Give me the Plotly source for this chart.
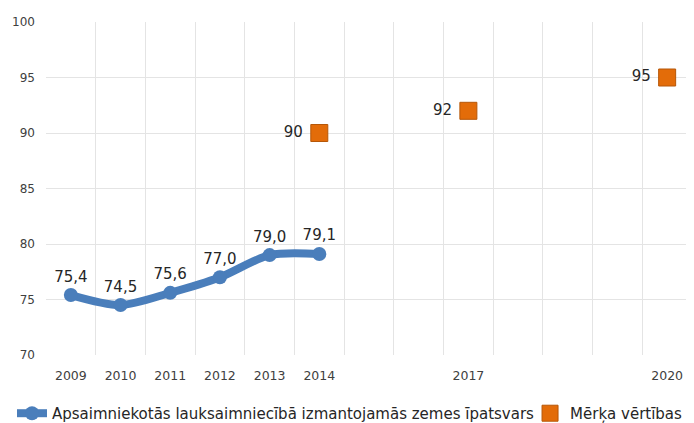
import plotly.graph_objects as go

categories = ["2009", "2010", "2011", "2012", "2013", "2014", "", "", "2017", "", "", "", "2020"]
actual_years = ["2009", "2010", "2011", "2012", "2013", "2014"]
actual_values = [75.4, 74.5, 75.6, 77.0, 79.0, 79.1]
target_years = ["2014", "2017", "2020"]
target_values = [90, 92, 95]
y_ticks = [70, 75, 80, 85, 90, 95, 100]

name_actual = "Apsaimniekotās lauksaimniecībā izmantojamās zemes īpatsvars"
name_target = "Mērķa vērtības"

def pos(year):
    return categories.index(year)

font_family = "DejaVu Sans"

fig = go.Figure()
fig.add_trace(go.Scatter(
    x=[pos(y) for y in actual_years], y=actual_values,
    mode="lines+markers+text",
    name=name_actual,
    legend="legend",
    line=dict(color="#4A7EBB", width=8, shape="spline", smoothing=0.8),
    marker=dict(color="#4A7EBB", size=14, symbol="circle"),
    text=[f"{v:.1f}".replace(".", ",") for v in actual_values],
    textposition="top center",
    textfont=dict(family=font_family, size=15, color="#262626"),
))
fig.add_trace(go.Scatter(
    x=[pos(y) for y in target_years], y=target_values,
    mode="markers+text",
    name=name_target,
    legend="legend2",
    marker=dict(color="#E36C09", size=17, symbol="square",
                line=dict(color="#B65708", width=1)),
    text=[f"{v} " for v in target_values],
    textposition="middle left",
    textfont=dict(family=font_family, size=15, color="#262626"),
))

tickvals = [i for i, c in enumerate(categories) if c]
ticktext = [c for c in categories if c]

legend_common = dict(orientation="h", xref="container", xanchor="left",
                     y=-0.126, yanchor="top",
                     font=dict(family=font_family, size=15, color="#262626"),
                     itemwidth=30, bgcolor="rgba(0,0,0,0)")

fig.update_layout(
    width=686, height=415,
    margin=dict(l=38, r=2, t=14, b=68, autoexpand=False),
    plot_bgcolor="white", paper_bgcolor="white",
    font=dict(family=font_family, size=12, color="#595959"),
    showlegend=True,
    legend=dict(x=4 / 686, **legend_common),
    legend2=dict(x=0.761, **legend_common),
    xaxis=dict(
        range=[-0.5, len(categories) - 0.5],
        tickvals=tickvals, ticktext=ticktext,
        showgrid=False, zeroline=False, showline=False,
        ticks="", tickfont=dict(size=12.5, color="#404040"),
        ticklabelstandoff=11,
        minor=dict(tick0=-0.5, dtick=1, showgrid=True, gridcolor="#E4E4E4", gridwidth=1, ticks=""),
    ),
    yaxis=dict(
        range=[70, 100], tickvals=y_ticks,
        showgrid=True, gridcolor="#E4E4E4", gridwidth=1,
        zeroline=False, showline=False, ticks="",
        tickfont=dict(size=12, color="#404040"),
        ticklabelstandoff=10,
    ),
)

fig.write_html("out.html")
